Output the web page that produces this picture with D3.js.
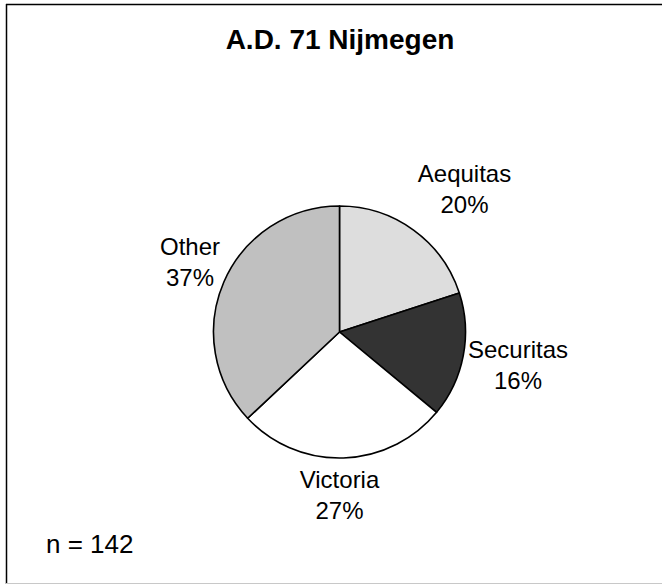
<!DOCTYPE html>
<html>
<head>
<meta charset="utf-8">
<script src="https://cdn.jsdelivr.net/npm/d3@7"></script>
<style>
html,body{margin:0;padding:0;background:#fff;}
svg{display:block;}
text{font-family:"Liberation Sans",Arial,sans-serif;fill:#000;}
</style>
</head>
<body>
<script>
const title = "A.D. 71 Nijmegen";
const categories = ["Aequitas", "Securitas", "Victoria", "Other"];
const values = [20, 16, 27, 37];
const percentLabels = ["20%", "16%", "27%", "37%"];
const colors = ["#dddddd", "#333333", "#ffffff", "#c0c0c0"];
const note = "n = 142";

const W = 662, H = 585;
const svg = d3.select("body").append("svg").attr("width", W).attr("height", H);
svg.append("rect").attr("width", W).attr("height", H).attr("fill", "#fff");

// frame
svg.append("line").attr("x1", 6).attr("x2", W).attr("y1", 4.5).attr("y2", 4.5)
  .attr("stroke", "#000").attr("stroke-width", 1.5);
svg.append("line").attr("x1", 6.5).attr("x2", 6.5).attr("y1", 4).attr("y2", 584)
  .attr("stroke", "#000").attr("stroke-width", 1.5);
svg.append("line").attr("x1", 6).attr("x2", W).attr("y1", 583.5).attr("y2", 583.5)
  .attr("stroke", "#c8c8c8").attr("stroke-width", 1);

svg.append("text").attr("x", 340).attr("y", 49).attr("text-anchor", "middle")
  .attr("font-size", 28).attr("font-weight", "bold").text(title);

const cx = 339.5, cy = 332, r = 126;
const pie = d3.pie().sort(null).value(d => d)(values);
const arc = d3.arc().innerRadius(0).outerRadius(r);
const g = svg.append("g").attr("transform", `translate(${cx},${cy})`);
g.selectAll("path").data(pie).join("path")
  .attr("d", arc)
  .attr("fill", (d, i) => colors[i])
  .attr("stroke", "#000").attr("stroke-width", 1.6).attr("stroke-linejoin", "round");

// label positions relative to center
const labelPos = [[125, -150], [178.5, 26], [0, 156], [-149.5, -77]];
labelPos.forEach((p, i) => {
  const t = svg.append("text").attr("text-anchor", "middle").attr("font-size", 24)
    .attr("x", cx + p[0]).attr("y", cy + p[1]);
  t.append("tspan").attr("x", cx + p[0]).text(categories[i]);
  t.append("tspan").attr("x", cx + p[0]).attr("dy", 31).text(percentLabels[i]);
});

svg.append("text").attr("x", 46).attr("y", 553).attr("font-size", 26).text(note);
</script>
</body>
</html>
